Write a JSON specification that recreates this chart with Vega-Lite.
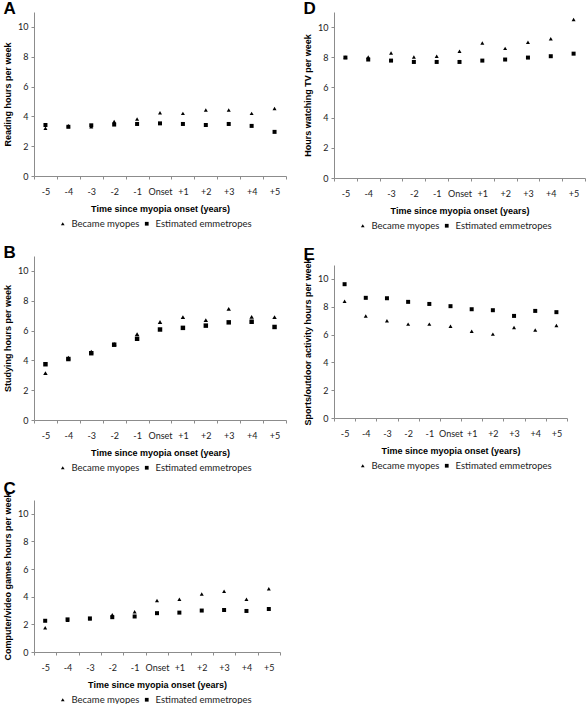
{
  "$schema": "https://vega.github.io/schema/vega-lite/v6.json",
  "padding": {"left": 3, "top": 0, "right": 0, "bottom": 0},
  "background": "white",
  "data": {"values": [
    {"panel":"A","time":"-5","group":"Became myopes","value":3.2},
    {"panel":"A","time":"-4","group":"Became myopes","value":3.38},
    {"panel":"A","time":"-3","group":"Became myopes","value":3.3},
    {"panel":"A","time":"-2","group":"Became myopes","value":3.65},
    {"panel":"A","time":"-1","group":"Became myopes","value":3.82},
    {"panel":"A","time":"Onset","group":"Became myopes","value":4.24},
    {"panel":"A","time":"+1","group":"Became myopes","value":4.2},
    {"panel":"A","time":"+2","group":"Became myopes","value":4.42},
    {"panel":"A","time":"+3","group":"Became myopes","value":4.42},
    {"panel":"A","time":"+4","group":"Became myopes","value":4.2},
    {"panel":"A","time":"+5","group":"Became myopes","value":4.53},
    {"panel":"A","time":"-5","group":"Estimated emmetropes","value":3.42},
    {"panel":"A","time":"-4","group":"Estimated emmetropes","value":3.3},
    {"panel":"A","time":"-3","group":"Estimated emmetropes","value":3.4},
    {"panel":"A","time":"-2","group":"Estimated emmetropes","value":3.45},
    {"panel":"A","time":"-1","group":"Estimated emmetropes","value":3.49},
    {"panel":"A","time":"Onset","group":"Estimated emmetropes","value":3.53},
    {"panel":"A","time":"+1","group":"Estimated emmetropes","value":3.49},
    {"panel":"A","time":"+2","group":"Estimated emmetropes","value":3.42},
    {"panel":"A","time":"+3","group":"Estimated emmetropes","value":3.49},
    {"panel":"A","time":"+4","group":"Estimated emmetropes","value":3.36},
    {"panel":"A","time":"+5","group":"Estimated emmetropes","value":2.96},
    {"panel":"D","time":"-5","group":"Became myopes","value":8.0},
    {"panel":"D","time":"-4","group":"Became myopes","value":8.02},
    {"panel":"D","time":"-3","group":"Became myopes","value":8.29},
    {"panel":"D","time":"-2","group":"Became myopes","value":8.02},
    {"panel":"D","time":"-1","group":"Became myopes","value":8.07},
    {"panel":"D","time":"Onset","group":"Became myopes","value":8.4},
    {"panel":"D","time":"+1","group":"Became myopes","value":8.95},
    {"panel":"D","time":"+2","group":"Became myopes","value":8.59},
    {"panel":"D","time":"+3","group":"Became myopes","value":8.99},
    {"panel":"D","time":"+4","group":"Became myopes","value":9.23},
    {"panel":"D","time":"+5","group":"Became myopes","value":10.5},
    {"panel":"D","time":"-5","group":"Estimated emmetropes","value":7.98},
    {"panel":"D","time":"-4","group":"Estimated emmetropes","value":7.85},
    {"panel":"D","time":"-3","group":"Estimated emmetropes","value":7.78},
    {"panel":"D","time":"-2","group":"Estimated emmetropes","value":7.69},
    {"panel":"D","time":"-1","group":"Estimated emmetropes","value":7.69},
    {"panel":"D","time":"Onset","group":"Estimated emmetropes","value":7.69},
    {"panel":"D","time":"+1","group":"Estimated emmetropes","value":7.78},
    {"panel":"D","time":"+2","group":"Estimated emmetropes","value":7.85},
    {"panel":"D","time":"+3","group":"Estimated emmetropes","value":7.98},
    {"panel":"D","time":"+4","group":"Estimated emmetropes","value":8.07},
    {"panel":"D","time":"+5","group":"Estimated emmetropes","value":8.24},
    {"panel":"B","time":"-5","group":"Became myopes","value":3.14},
    {"panel":"B","time":"-4","group":"Became myopes","value":4.18},
    {"panel":"B","time":"-3","group":"Became myopes","value":4.59},
    {"panel":"B","time":"-2","group":"Became myopes","value":5.1},
    {"panel":"B","time":"-1","group":"Became myopes","value":5.76},
    {"panel":"B","time":"Onset","group":"Became myopes","value":6.57},
    {"panel":"B","time":"+1","group":"Became myopes","value":6.9},
    {"panel":"B","time":"+2","group":"Became myopes","value":6.7},
    {"panel":"B","time":"+3","group":"Became myopes","value":7.45},
    {"panel":"B","time":"+4","group":"Became myopes","value":6.92},
    {"panel":"B","time":"+5","group":"Became myopes","value":6.9},
    {"panel":"B","time":"-5","group":"Estimated emmetropes","value":3.74},
    {"panel":"B","time":"-4","group":"Estimated emmetropes","value":4.09},
    {"panel":"B","time":"-3","group":"Estimated emmetropes","value":4.48},
    {"panel":"B","time":"-2","group":"Estimated emmetropes","value":5.05},
    {"panel":"B","time":"-1","group":"Estimated emmetropes","value":5.45},
    {"panel":"B","time":"Onset","group":"Estimated emmetropes","value":6.07},
    {"panel":"B","time":"+1","group":"Estimated emmetropes","value":6.18},
    {"panel":"B","time":"+2","group":"Estimated emmetropes","value":6.33},
    {"panel":"B","time":"+3","group":"Estimated emmetropes","value":6.55},
    {"panel":"B","time":"+4","group":"Estimated emmetropes","value":6.59},
    {"panel":"B","time":"+5","group":"Estimated emmetropes","value":6.24},
    {"panel":"E","time":"-5","group":"Became myopes","value":8.4},
    {"panel":"E","time":"-4","group":"Became myopes","value":7.34},
    {"panel":"E","time":"-3","group":"Became myopes","value":6.99},
    {"panel":"E","time":"-2","group":"Became myopes","value":6.75},
    {"panel":"E","time":"-1","group":"Became myopes","value":6.75},
    {"panel":"E","time":"Onset","group":"Became myopes","value":6.6},
    {"panel":"E","time":"+1","group":"Became myopes","value":6.24},
    {"panel":"E","time":"+2","group":"Became myopes","value":6.03},
    {"panel":"E","time":"+3","group":"Became myopes","value":6.51},
    {"panel":"E","time":"+4","group":"Became myopes","value":6.32},
    {"panel":"E","time":"+5","group":"Became myopes","value":6.65},
    {"panel":"E","time":"-5","group":"Estimated emmetropes","value":9.62},
    {"panel":"E","time":"-4","group":"Estimated emmetropes","value":8.64},
    {"panel":"E","time":"-3","group":"Estimated emmetropes","value":8.61},
    {"panel":"E","time":"-2","group":"Estimated emmetropes","value":8.35},
    {"panel":"E","time":"-1","group":"Estimated emmetropes","value":8.2},
    {"panel":"E","time":"Onset","group":"Estimated emmetropes","value":8.04},
    {"panel":"E","time":"+1","group":"Estimated emmetropes","value":7.82},
    {"panel":"E","time":"+2","group":"Estimated emmetropes","value":7.75},
    {"panel":"E","time":"+3","group":"Estimated emmetropes","value":7.34},
    {"panel":"E","time":"+4","group":"Estimated emmetropes","value":7.7},
    {"panel":"E","time":"+5","group":"Estimated emmetropes","value":7.61},
    {"panel":"C","time":"-5","group":"Became myopes","value":1.75},
    {"panel":"C","time":"-4","group":"Became myopes","value":2.3},
    {"panel":"C","time":"-3","group":"Became myopes","value":2.4},
    {"panel":"C","time":"-2","group":"Became myopes","value":2.69},
    {"panel":"C","time":"-1","group":"Became myopes","value":2.92},
    {"panel":"C","time":"Onset","group":"Became myopes","value":3.73},
    {"panel":"C","time":"+1","group":"Became myopes","value":3.82},
    {"panel":"C","time":"+2","group":"Became myopes","value":4.2},
    {"panel":"C","time":"+3","group":"Became myopes","value":4.39},
    {"panel":"C","time":"+4","group":"Became myopes","value":3.82},
    {"panel":"C","time":"+5","group":"Became myopes","value":4.58},
    {"panel":"C","time":"-5","group":"Estimated emmetropes","value":2.26},
    {"panel":"C","time":"-4","group":"Estimated emmetropes","value":2.36},
    {"panel":"C","time":"-3","group":"Estimated emmetropes","value":2.43},
    {"panel":"C","time":"-2","group":"Estimated emmetropes","value":2.52},
    {"panel":"C","time":"-1","group":"Estimated emmetropes","value":2.57},
    {"panel":"C","time":"Onset","group":"Estimated emmetropes","value":2.81},
    {"panel":"C","time":"+1","group":"Estimated emmetropes","value":2.85},
    {"panel":"C","time":"+2","group":"Estimated emmetropes","value":3.0},
    {"panel":"C","time":"+3","group":"Estimated emmetropes","value":3.04},
    {"panel":"C","time":"+4","group":"Estimated emmetropes","value":2.97},
    {"panel":"C","time":"+5","group":"Estimated emmetropes","value":3.11}
  ]},
  "hconcat": [
    {
      "spacing": 80,
      "bounds": "flush",
      "vconcat": [
        {
          "title": "A",
          "width": 252, "height": 164,
          "transform": [{"filter": "datum.panel == 'A'"}],
          "mark": {"type": "point", "filled": true, "color": "black", "opacity": 1},
          "encoding": {
            "x": {"field": "time", "type": "nominal", "sort": ["-5","-4","-3","-2","-1","Onset","+1","+2","+3","+4","+5"], "scale": {"type": "band", "paddingInner": 0, "paddingOuter": 0}, "axis": {"title": "Time since myopia onset (years)"}},
            "y": {"field": "value", "type": "quantitative", "scale": {"domain": [0, 11], "nice": false}, "axis": {"title": "Reading hours per week", "values": [0,2,4,6,8,10]}},
            "shape": {"field": "group", "type": "nominal", "scale": {"domain": ["Became myopes","Estimated emmetropes"], "range": ["triangle-up","square"]}, "legend": {"title": null}}
          }
        },
        {
          "title": "B",
          "width": 252, "height": 164,
          "transform": [{"filter": "datum.panel == 'B'"}],
          "mark": {"type": "point", "filled": true, "color": "black", "opacity": 1, "size": 20},
          "encoding": {
            "x": {"field": "time", "type": "nominal", "sort": ["-5","-4","-3","-2","-1","Onset","+1","+2","+3","+4","+5"], "scale": {"type": "band", "paddingInner": 0, "paddingOuter": 0}, "axis": {"title": "Time since myopia onset (years)"}},
            "y": {"field": "value", "type": "quantitative", "scale": {"domain": [0, 11], "nice": false}, "axis": {"title": "Studying hours per week", "values": [0,2,4,6,8,10]}},
            "shape": {"field": "group", "type": "nominal", "scale": {"domain": ["Became myopes","Estimated emmetropes"], "range": ["triangle-up","square"]}, "legend": {"title": null}}
          }
        },
        {
          "title": "C",
          "width": 246, "height": 152,
          "transform": [{"filter": "datum.panel == 'C'"}],
          "mark": {"type": "point", "filled": true, "color": "black", "opacity": 1},
          "encoding": {
            "x": {"field": "time", "type": "nominal", "sort": ["-5","-4","-3","-2","-1","Onset","+1","+2","+3","+4","+5"], "scale": {"type": "band", "paddingInner": 0, "paddingOuter": 0}, "axis": {"title": "Time since myopia onset (years)"}},
            "y": {"field": "value", "type": "quantitative", "scale": {"domain": [0, 11], "nice": false}, "axis": {"title": "Computer/video games hours per week", "values": [0,2,4,6,8,10]}},
            "shape": {"field": "group", "type": "nominal", "scale": {"domain": ["Became myopes","Estimated emmetropes"], "range": ["triangle-up","square"]}, "legend": {"title": null}}
          }
        }
      ],
      "resolve": {"legend": {"shape": "independent"}, "scale": {"shape": "independent", "x": "independent", "y": "independent"}}
    },
    {
      "spacing": 87,
      "bounds": "flush",
      "vconcat": [
        {
          "title": "D",
          "width": 251, "height": 166,
          "transform": [{"filter": "datum.panel == 'D'"}],
          "mark": {"type": "point", "filled": true, "color": "black", "opacity": 1},
          "encoding": {
            "x": {"field": "time", "type": "nominal", "sort": ["-5","-4","-3","-2","-1","Onset","+1","+2","+3","+4","+5"], "scale": {"type": "band", "paddingInner": 0, "paddingOuter": 0}, "axis": {"title": "Time since myopia onset (years)"}},
            "y": {"field": "value", "type": "quantitative", "scale": {"domain": [0, 11], "nice": false}, "axis": {"title": "Hours watching TV per week", "values": [0,2,4,6,8,10]}},
            "shape": {"field": "group", "type": "nominal", "scale": {"domain": ["Became myopes","Estimated emmetropes"], "range": ["triangle-up","square"]}, "legend": {"title": null}}
          }
        },
        {
          "title": "E",
          "width": 233, "height": 153,
          "transform": [{"filter": "datum.panel == 'E'"}],
          "mark": {"type": "point", "filled": true, "color": "black", "opacity": 1},
          "encoding": {
            "x": {"field": "time", "type": "nominal", "sort": ["-5","-4","-3","-2","-1","Onset","+1","+2","+3","+4","+5"], "scale": {"type": "band", "paddingInner": 0, "paddingOuter": 0}, "axis": {"title": "Time since myopia onset (years)"}},
            "y": {"field": "value", "type": "quantitative", "scale": {"domain": [0, 11], "nice": false}, "axis": {"title": "Sports/outdoor activity hours per week", "values": [0,2,4,6,8,10]}},
            "shape": {"field": "group", "type": "nominal", "scale": {"domain": ["Became myopes","Estimated emmetropes"], "range": ["triangle-up","square"]}, "legend": {"title": null}}
          }
        }
      ],
      "resolve": {"legend": {"shape": "independent"}, "scale": {"shape": "independent", "x": "independent", "y": "independent"}}
    }
  ],
  "spacing": 16,
  "resolve": {"legend": {"shape": "independent"}, "scale": {"shape": "independent", "x": "independent", "y": "independent"}},
  "config": {
    "view": {"stroke": null},
    "point": {"size": 16},
    "title": {"anchor": "start", "frame": "bounds", "font": "Liberation Sans", "fontSize": 17, "fontWeight": "bold", "color": "black", "offset": -6, "dx": 0},
    "axis": {
      "domainColor": "#8c8c8c", "tickColor": "#8c8c8c", "grid": false,
      "labelFont": "Lato", "labelFontSize": 9, "labelColor": "#222",
      "titleFont": "Liberation Sans", "titleFontSize": 9, "titleFontWeight": "bold", "titleColor": "black",
      "tickSize": 3
    },
    "axisX": {"labelAngle": 0, "tickBand": "extent", "labelPadding": 8, "titlePadding": 8},
    "axisY": {"labelPadding": 3, "titlePadding": 5},
    "legend": {"orient": "bottom", "direction": "horizontal", "gridAlign": "none", "labelFont": "Lato", "labelFontSize": 9.5, "labelColor": "#222", "symbolFillColor": "black", "symbolStrokeColor": "black", "symbolSize": 14, "columnPadding": -22, "padding": 0, "offset": 6, "symbolOffset": 24}
  }
}
